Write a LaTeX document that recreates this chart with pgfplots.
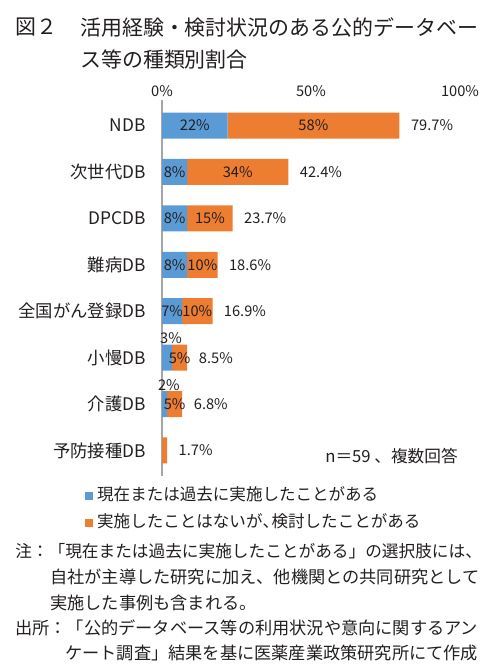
\documentclass[border=0pt]{standalone}
\usepackage{pgfplots}
\pgfplotsset{compat=1.18}
\usepackage{fontspec}
\setmainfont{Noto Sans CJK JP}
\definecolor{cblue}{HTML}{5B9BD5}
\definecolor{corange}{HTML}{ED7D31}
\definecolor{txt}{HTML}{231F20}
\newcommand{\fs}[1]{\fontsize{#1}{#1}\selectfont}
\begin{document}
\begin{tikzpicture}
\path[use as bounding box] (0pt,0pt) rectangle (375pt,-504pt);
% title
\node[anchor=west, inner sep=0pt, font=\fs{15.7}, text=txt] at (11.25pt,-20.25pt) {図２};
\node[anchor=west, inner sep=0pt, font=\fs{15.7}, text=txt] at (60pt,-20.25pt) {活用経験・検討状況のある公的データベー};
\node[anchor=west, inner sep=0pt, font=\fs{15.7}, text=txt] at (60pt,-45pt) {ス等の種類別割合};

\begin{axis}[
  at={(121.5pt,-357pt)}, anchor=south west,
  scale only axis, width=223.5pt, height=282pt,
  xbar stacked, bar width=19.5pt,
  xmin=0, xmax=100, ymin=-0.55, ymax=7.55, y dir=reverse,
  axis x line*=top, axis y line*=left,
  x axis line style={draw=none},
  y axis line style={draw=black!35, line width=0.8pt},
  xtick={0,50,100},
  xticklabel={\pgfmathprintnumber{\tick}\%},
  ytick={0,...,7},
  yticklabels={NDB,次世代DB,DPCDB,難病DB,全国がん登録DB,小慢DB,介護DB,予防接種DB},
  major tick length=0pt,
  /pgf/number format/assume math mode=true,
  xticklabel style={font=\fs{11}, text=txt, inner sep=0pt, anchor=south, yshift=2pt},
  yticklabel style={font=\fs{13}, text=txt, inner sep=0pt, anchor=east, xshift=-12pt},
  clip=false,
  legend style={at={(-0.272,-0.023)}, anchor=north west, draw=none, fill=none,
    font=\fs{12.4}, text=txt, row sep=7.5pt, column sep=3pt,
    nodes={inner sep=0pt, text height=10pt, text depth=2.5pt}},
  legend cell align=left,
]
\addplot[fill=cblue, draw=none,
  legend image code/.code={\fill[cblue] (0pt,-3pt) rectangle (6pt,3pt);}]
  coordinates {(22.03,0) (8.47,1) (8.47,2) (8.47,3) (6.78,4) (3.39,5) (1.69,6) (0,7)};
\addlegendentry{現在または過去に実施したことがある}
\addplot[fill=corange, draw=none,
  legend image code/.code={\fill[corange] (0pt,-3pt) rectangle (6pt,3pt);}]
  coordinates {(57.63,0) (33.90,1) (15.25,2) (10.17,3) (10.17,4) (5.08,5) (5.08,6) (1.69,7)};
\addlegendentry{実施したことはないが\makebox[0.55em][l]{、}検討したことがある}
\end{axis}

\begin{axis}[
  at={(121.5pt,-357pt)}, anchor=south west,
  scale only axis, width=223.5pt, height=282pt,
  xmin=0, xmax=100, ymin=-0.55, ymax=7.55, y dir=reverse,
  hide axis, clip=false,
  nodes near coords, point meta=explicit symbolic,
  every node near coord/.append style={font=\fs{11}, text=txt, inner sep=0pt, anchor=center},
]
\addplot[draw=none] coordinates {
  (11.0,0)[22\%] (4.24,1)[8\%] (4.24,2)[8\%] (4.24,3)[8\%] (3.4,4)[7\%]
  (3.0,4.59)[3\%] (2.3,5.59)[2\%]};
\addplot[draw=none] coordinates {
  (50.8,0)[58\%] (25.4,1)[34\%] (16.1,2)[15\%] (13.55,3)[10\%] (11.86,4)[10\%]
  (5.93,5)[5\%] (4.24,6)[5\%]};
\addplot[draw=none, every node near coord/.append style={anchor=west, xshift=8.5pt}] coordinates {
  (79.7,0)[79.7\%] (42.4,1)[42.4\%] (23.7,2)[23.7\%] (18.6,3)[18.6\%] (16.9,4)[16.9\%]
  (8.5,5)[8.5\%] (6.8,6)[6.8\%] (1.7,7)[1.7\%]};
\end{axis}

\node[anchor=east, inner sep=0pt, font=\fs{12.5}, text=txt] at (343.5pt,-342pt) {n＝59 、複数回答};

% notes
\node[anchor=west, inner sep=0pt, font=\fs{12.5}, text=txt] at (11.25pt,-413.5pt) {注：「現在または過去に実施したことがある」の選択肢には、};
\node[anchor=west, inner sep=0pt, font=\fs{12.9}, text=txt] at (37.5pt,-433pt) {自社が主導した研究に加え、他機関との共同研究として};
\node[anchor=west, inner sep=0pt, font=\fs{12.9}, text=txt] at (37.5pt,-452pt) {実施した事例も含まれる。};
\node[anchor=west, inner sep=0pt, font=\fs{12.9}, text=txt] at (11.25pt,-471pt) {出所：「公的データベース等の利用状況や意向に関するアン};
\node[anchor=west, inner sep=0pt, font=\fs{12.9}, text=txt] at (48.75pt,-490pt) {ケート調査」結果を基に医薬産業政策研究所にて作成};
\end{tikzpicture}
\end{document}
